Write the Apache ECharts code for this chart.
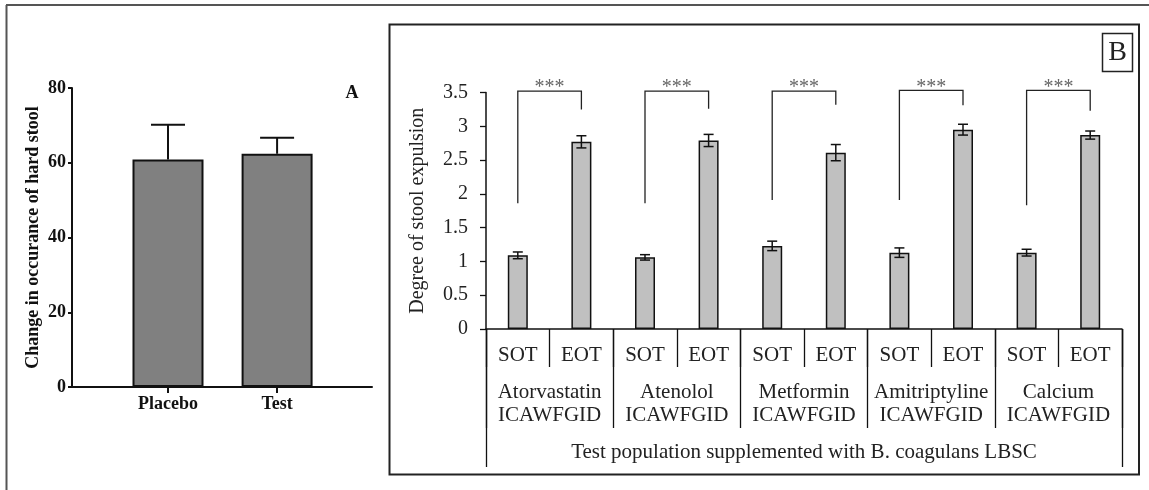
<!DOCTYPE html>
<html>
<head>
<meta charset="utf-8">
<script src="https://cdn.jsdelivr.net/npm/echarts@6/dist/echarts.min.js"></script>
<style>
  html, body { margin: 0; padding: 0; background: #fff; }
  #main { width: 1149px; height: 490px; }
</style>
</head>
<body>
<div id="main"></div>
<script>
// panel A
var categoriesA = ['Placebo', 'Test'];
var meansA = [60.9, 62.4];
var errA = [9.3, 4.3];

// panel B
var groupsB = ['Atorvastatin', 'Atenolol', 'Metformin', 'Amitriptyline', 'Calcium'];
var phasesB = ['SOT', 'EOT'];
var sotMeans = [1.09, 1.06, 1.23, 1.13, 1.13];
var eotMeans = [2.77, 2.79, 2.61, 2.95, 2.87];
var sotErr = [0.05, 0.04, 0.07, 0.07, 0.05];
var eotErr = [0.09, 0.09, 0.12, 0.08, 0.06];
// significance brackets: top, left leg end, right leg end
var bracketTop = [3.52, 3.52, 3.52, 3.53, 3.53];
var bracketLeftEnd = [1.86, 1.86, 1.91, 1.91, 1.83];
var bracketRightEnd = [3.25, 3.26, 3.32, 3.31, 3.23];
var sigLabel = '***';
var groupSuffix = 'ICAWFGID';
var populationLabel = 'Test population supplemented with B. coagulans LBSC';

var serif = "'Liberation Serif', 'Times New Roman', serif";

// build category data
var catsB = [];
var valsB = [];
var errsB = [];
for (var i = 0; i < groupsB.length; i++) {
	catsB.push(phasesB[0]); valsB.push(sotMeans[i]); errsB.push([2 * i, sotMeans[i], sotErr[i]]);
	catsB.push(phasesB[1]); valsB.push(eotMeans[i]); errsB.push([2 * i + 1, eotMeans[i], eotErr[i]]);
}
var groupLabels = groupsB.map(function (g) { return g + '\n' + groupSuffix; });
var bracketData = groupsB.map(function (g, i) {
	return [i, bracketLeftEnd[i], bracketRightEnd[i], bracketTop[i]];
});

var chart = echarts.init(document.getElementById('main'));

var option = {
	animation: false,
	backgroundColor: '#fff',
	grid: [
		{ left: 486, top: 92.5, width: 636, height: 236.5 },
		{ left: 72, top: 88, width: 300, height: 299 }
	],
	xAxis: [
		{
			type: 'category', gridIndex: 0, position: 'bottom', data: catsB,
			axisLine: { show: true, lineStyle: { color: '#111', width: 1.5 } },
			axisTick: { show: true, interval: 0, length: 38, lineStyle: { color: '#111', width: 1.3 } },
			axisLabel: { interval: 0, margin: 15.5, color: '#222', fontFamily: serif, fontSize: 21, lineHeight: 21 }
		},
		{
			type: 'category', gridIndex: 0, position: 'bottom', data: groupLabels,
			axisLine: { show: false },
			axisTick: { show: true, interval: 0, length: 99, lineStyle: { color: '#111', width: 1.3 } },
			axisLabel: { interval: 0, margin: 52, color: '#222', fontFamily: serif, fontSize: 21, lineHeight: 23 }
		},
		{
			type: 'category', gridIndex: 0, position: 'bottom', data: [populationLabel],
			axisLine: { show: false },
			axisTick: { show: true, interval: 0, length: 138, lineStyle: { color: '#111', width: 1.3 } },
			axisLabel: { interval: 0, margin: 112.5, color: '#222', fontFamily: serif, fontSize: 21, lineHeight: 21 }
		},
		{
			type: 'value', gridIndex: 1, min: -0.88, max: 1.87,
			splitLine: { show: false },
			axisLine: { show: true, onZero: false, lineStyle: { color: '#111', width: 2 } },
			axisTick: { show: true, customValues: [0, 1], length: 6, lineStyle: { color: '#111', width: 2 } },
			axisLabel: {
				customValues: [0, 1], margin: 8, color: '#111', fontFamily: serif,
				fontSize: 18, fontWeight: 'bold',
				formatter: function (v) { return categoriesA[Math.round(v)]; }
			}
		}
	],
	yAxis: [
		{
			type: 'value', gridIndex: 0, min: 0, max: 3.5, interval: 0.5,
			name: 'Degree of stool expulsion', nameLocation: 'middle', nameGap: 58,
			nameTextStyle: { color: '#222', fontFamily: serif, fontSize: 20 },
			splitLine: { show: false },
			axisLine: { show: true, onZero: false, lineStyle: { color: '#111', width: 1.5 } },
			axisTick: { show: true, length: 6, lineStyle: { color: '#111', width: 1.3 } },
			axisLabel: { margin: 18, color: '#222', fontFamily: serif, fontSize: 20 }
		},
		{
			type: 'value', gridIndex: 1, min: 0, max: 80, interval: 20,
			name: 'Change in occurance of hard stool', nameLocation: 'middle', nameGap: 30,
			nameTextStyle: { color: '#111', fontFamily: serif, fontSize: 18, fontWeight: 'bold' },
			splitLine: { show: false },
			axisLine: { show: true, onZero: false, lineStyle: { color: '#111', width: 2 } },
			axisTick: { show: true, length: 4, lineStyle: { color: '#111', width: 2 } },
			axisLabel: { margin: 6, color: '#111', fontFamily: serif, fontSize: 18, fontWeight: 'bold' }
		}
	],
	series: [
		{
			type: 'bar', xAxisIndex: 0, yAxisIndex: 0, data: valsB, barWidth: 20,
			itemStyle: { color: '#c0c0c0', borderColor: '#111', borderWidth: 1.5 }
		},
		{
			// 误差线 B
			type: 'custom', xAxisIndex: 0, yAxisIndex: 0, data: errsB, z: 5,
			renderItem: function (params, api) {
				var x = api.value(0), m = api.value(1), e = api.value(2);
				var top = api.coord([x, m + e]);
				var bot = api.coord([x, m - e]);
				var st = { stroke: '#111', lineWidth: 1.5 };
				return {
					type: 'group', children: [
						{ type: 'line', shape: { x1: top[0], y1: top[1], x2: bot[0], y2: bot[1] }, style: st },
						{ type: 'line', shape: { x1: top[0] - 5, y1: top[1], x2: top[0] + 5, y2: top[1] }, style: st },
						{ type: 'line', shape: { x1: bot[0] - 5, y1: bot[1], x2: bot[0] + 5, y2: bot[1] }, style: st }
					]
				};
			}
		},
		{
			// 显著性括号
			type: 'custom', xAxisIndex: 0, yAxisIndex: 0, data: bracketData, z: 5, clip: false,
			renderItem: function (params, api) {
				var g = api.value(0);
				var l0 = api.coord([2 * g, api.value(1)]);
				var l1 = api.coord([2 * g, api.value(3)]);
				var r1 = api.coord([2 * g + 1, api.value(3)]);
				var r0 = api.coord([2 * g + 1, api.value(2)]);
				return {
					type: 'group', children: [
						{
							type: 'polyline',
							shape: { points: [l0, l1, r1, r0] },
							style: { stroke: '#222', lineWidth: 1.3, fill: null }
						},
						{
							type: 'text',
							x: (l1[0] + r1[0]) / 2, y: l1[1] + 7,
							style: {
								text: sigLabel, fill: '#666', font: '20px ' + serif,
								align: 'center', verticalAlign: 'bottom'
							}
						}
					]
				};
			}
		},
		{
			type: 'bar', xAxisIndex: 3, yAxisIndex: 1, barWidth: 71,
			data: meansA.map(function (v, i) { return [i, v]; }),
			itemStyle: { color: '#808080', borderColor: '#111', borderWidth: 2 }
		},
		{
			// 误差线 A（只画上半部分）
			type: 'custom', xAxisIndex: 3, yAxisIndex: 1, z: 5,
			data: meansA.map(function (v, i) { return [i, v, errA[i]]; }),
			renderItem: function (params, api) {
				var x = api.value(0), m = api.value(1), e = api.value(2);
				var top = api.coord([x, m + e]);
				var bot = api.coord([x, m]);
				var st = { stroke: '#111', lineWidth: 2 };
				return {
					type: 'group', children: [
						{ type: 'line', shape: { x1: top[0], y1: top[1], x2: bot[0], y2: bot[1] }, style: st },
						{ type: 'line', shape: { x1: top[0] - 17, y1: top[1], x2: top[0] + 17, y2: top[1] }, style: st }
					]
				};
			}
		}
	],
	graphic: [
		// 外框
		{ type: 'line', shape: { x1: 6.5, y1: 5, x2: 6.5, y2: 490 }, style: { stroke: '#555', lineWidth: 2 } },
		{ type: 'line', shape: { x1: 6, y1: 5, x2: 1149, y2: 5 }, style: { stroke: '#555', lineWidth: 2 } },
		// B 面板框
		{ type: 'rect', shape: { x: 389.5, y: 24.5, width: 749.5, height: 450 }, style: { stroke: '#222', lineWidth: 2, fill: null } },
		{ type: 'rect', shape: { x: 1102.5, y: 33.5, width: 30, height: 38 }, style: { stroke: '#222', lineWidth: 1.5, fill: '#fff' } },
		{ type: 'text', x: 1117.5, y: 53, style: { text: 'B', font: '28px ' + serif, fill: '#222', align: 'center', verticalAlign: 'middle' } },
		{ type: 'text', x: 352, y: 93, style: { text: 'A', font: 'bold 18px ' + serif, fill: '#111', align: 'center', verticalAlign: 'middle' } }
	]
};
chart.setOption(option);
</script>
</body>
</html>
